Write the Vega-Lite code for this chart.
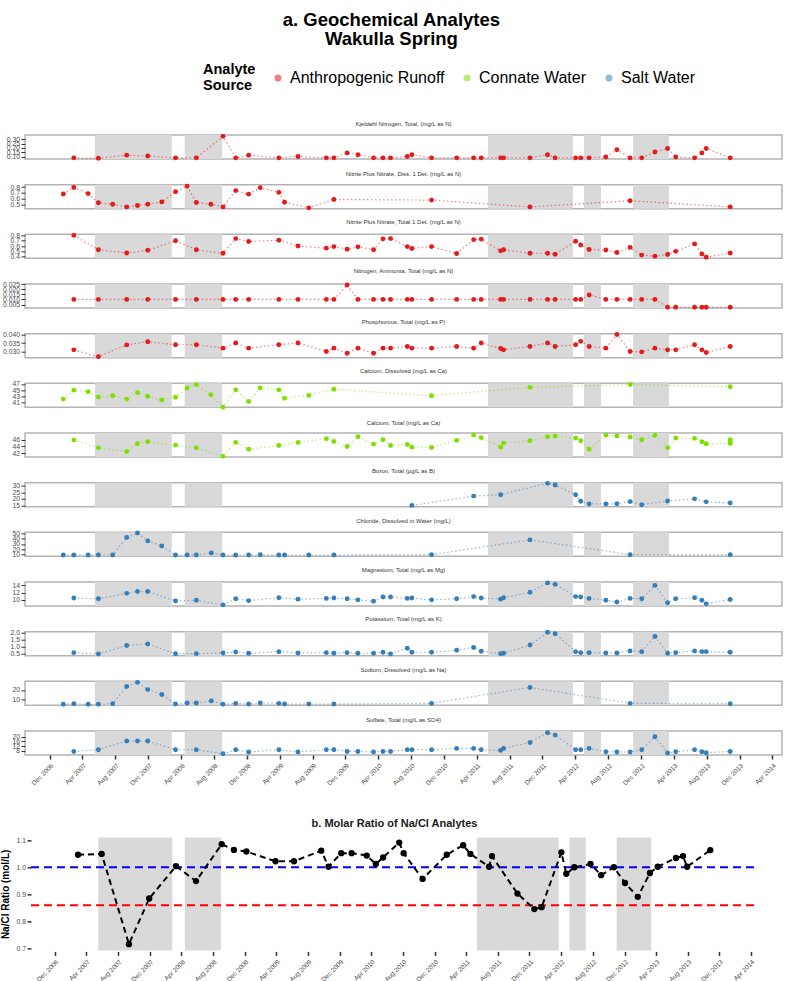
{
"$schema": "https://vega.github.io/schema/vega-lite/v6.json",
"background": "white",
"padding": {"left": 0, "top": 10, "right": 0, "bottom": 0},
"title": {"text": ["a. Geochemical Analytes", "Wakulla Spring"], "fontSize": 18.5, "fontWeight": "bold", "color": "#000000", "anchor": "middle", "offset": 22, "lineHeight": 19, "font": "Liberation Sans"},
"datasets": {
"periods": [{"start":"2007-05-17","end":"2008-02-26"},{"start":"2008-04-14","end":"2008-08-31"},{"start":"2011-05-13","end":"2012-03-23"},{"start":"2012-05-03","end":"2012-07-05"},{"start":"2012-11-01","end":"2013-03-14"}],
"refs": [{"ref":"equal","ratio":1.0,"start":"2006-08-31","end":"2014-04-21"},{"ref":"seawater","ratio":0.86,"start":"2006-08-31","end":"2014-04-21"}],
"Kjeldahl": [{"date":"2007-02-28","value":0.09},{"date":"2007-05-30","value":0.085},{"date":"2007-09-12","value":0.12},{"date":"2007-11-29","value":0.11},{"date":"2008-03-11","value":0.09},{"date":"2008-05-27","value":0.09},{"date":"2008-09-03","value":0.33},{"date":"2008-10-20","value":0.09},{"date":"2008-12-07","value":0.12},{"date":"2009-03-29","value":0.09},{"date":"2009-06-08","value":0.105},{"date":"2009-09-21","value":0.09},{"date":"2009-10-19","value":0.09},{"date":"2009-12-07","value":0.145},{"date":"2010-01-16","value":0.125},{"date":"2010-03-15","value":0.09},{"date":"2010-04-19","value":0.09},{"date":"2010-05-17","value":0.09},{"date":"2010-07-18","value":0.105},{"date":"2010-08-04","value":0.125},{"date":"2010-10-16","value":0.09},{"date":"2011-01-17","value":0.09},{"date":"2011-03-21","value":0.09},{"date":"2011-04-18","value":0.09},{"date":"2011-06-29","value":0.09},{"date":"2011-07-10","value":0.09},{"date":"2011-10-16","value":0.09},{"date":"2011-12-20","value":0.125},{"date":"2012-01-17","value":0.09},{"date":"2012-04-02","value":0.09},{"date":"2012-04-21","value":0.09},{"date":"2012-05-22","value":0.09},{"date":"2012-07-23","value":0.10},{"date":"2012-09-02","value":0.18},{"date":"2012-10-21","value":0.09},{"date":"2012-12-03","value":0.09},{"date":"2013-01-21","value":0.155},{"date":"2013-03-09","value":0.195},{"date":"2013-04-08","value":0.10},{"date":"2013-06-17","value":0.09},{"date":"2013-07-14","value":0.145},{"date":"2013-07-30","value":0.195},{"date":"2013-10-27","value":0.09}],
"NO3D": [{"date":"2007-01-20","value":0.684},{"date":"2007-02-28","value":0.793},{"date":"2007-04-22","value":0.69},{"date":"2007-05-30","value":0.535},{"date":"2007-07-22","value":0.51},{"date":"2007-09-12","value":0.466},{"date":"2007-10-22","value":0.49},{"date":"2007-11-29","value":0.51},{"date":"2008-01-20","value":0.55},{"date":"2008-03-11","value":0.72},{"date":"2008-04-23","value":0.816},{"date":"2008-05-27","value":0.54},{"date":"2008-07-20","value":0.51},{"date":"2008-09-03","value":0.466},{"date":"2008-10-20","value":0.74},{"date":"2008-12-07","value":0.68},{"date":"2009-01-19","value":0.79},{"date":"2009-03-29","value":0.71},{"date":"2009-04-19","value":0.545},{"date":"2009-07-18","value":0.45},{"date":"2009-10-19","value":0.59},{"date":"2010-10-16","value":0.58},{"date":"2011-10-16","value":0.466},{"date":"2012-10-21","value":0.57},{"date":"2013-10-27","value":0.466}],
"NO3T": [{"date":"2007-02-28","value":0.80},{"date":"2007-05-30","value":0.53},{"date":"2007-09-12","value":0.47},{"date":"2007-11-29","value":0.52},{"date":"2008-03-11","value":0.70},{"date":"2008-05-27","value":0.53},{"date":"2008-09-03","value":0.465},{"date":"2008-10-20","value":0.74},{"date":"2008-12-07","value":0.685},{"date":"2009-03-29","value":0.71},{"date":"2009-06-08","value":0.60},{"date":"2009-09-21","value":0.56},{"date":"2009-10-19","value":0.59},{"date":"2009-12-07","value":0.54},{"date":"2010-01-16","value":0.585},{"date":"2010-03-15","value":0.53},{"date":"2010-04-19","value":0.735},{"date":"2010-05-17","value":0.74},{"date":"2010-07-18","value":0.59},{"date":"2010-08-04","value":0.555},{"date":"2010-10-16","value":0.59},{"date":"2011-01-17","value":0.46},{"date":"2011-03-21","value":0.72},{"date":"2011-04-18","value":0.73},{"date":"2011-06-29","value":0.51},{"date":"2011-07-10","value":0.53},{"date":"2011-10-16","value":0.465},{"date":"2011-12-20","value":0.465},{"date":"2012-01-17","value":0.445},{"date":"2012-04-02","value":0.69},{"date":"2012-04-21","value":0.62},{"date":"2012-05-22","value":0.535},{"date":"2012-07-23","value":0.525},{"date":"2012-09-02","value":0.48},{"date":"2012-10-21","value":0.575},{"date":"2012-12-03","value":0.43},{"date":"2013-01-21","value":0.41},{"date":"2013-03-09","value":0.44},{"date":"2013-04-08","value":0.50},{"date":"2013-06-17","value":0.64},{"date":"2013-07-14","value":0.45},{"date":"2013-07-30","value":0.39},{"date":"2013-10-27","value":0.47}],
"NH4": [{"date":"2007-02-28","value":0.010},{"date":"2007-05-30","value":0.010},{"date":"2007-09-12","value":0.010},{"date":"2007-11-29","value":0.010},{"date":"2008-03-11","value":0.010},{"date":"2008-05-27","value":0.010},{"date":"2008-09-03","value":0.010},{"date":"2008-10-20","value":0.010},{"date":"2008-12-07","value":0.010},{"date":"2009-03-29","value":0.010},{"date":"2009-06-08","value":0.010},{"date":"2009-09-21","value":0.010},{"date":"2009-10-19","value":0.010},{"date":"2009-12-07","value":0.024},{"date":"2010-01-16","value":0.010},{"date":"2010-03-15","value":0.010},{"date":"2010-04-19","value":0.010},{"date":"2010-05-17","value":0.010},{"date":"2010-07-18","value":0.010},{"date":"2010-08-04","value":0.010},{"date":"2010-10-16","value":0.010},{"date":"2011-01-17","value":0.010},{"date":"2011-03-21","value":0.010},{"date":"2011-04-18","value":0.010},{"date":"2011-06-29","value":0.010},{"date":"2011-07-10","value":0.010},{"date":"2011-10-16","value":0.010},{"date":"2011-12-20","value":0.010},{"date":"2012-01-17","value":0.010},{"date":"2012-04-02","value":0.010},{"date":"2012-04-21","value":0.010},{"date":"2012-05-22","value":0.0143},{"date":"2012-07-23","value":0.010},{"date":"2012-09-02","value":0.010},{"date":"2012-10-21","value":0.010},{"date":"2012-12-03","value":0.010},{"date":"2013-01-21","value":0.010},{"date":"2013-03-09","value":0.0023},{"date":"2013-04-08","value":0.0023},{"date":"2013-06-17","value":0.0023},{"date":"2013-07-14","value":0.0023},{"date":"2013-07-30","value":0.0023},{"date":"2013-10-27","value":0.0023}],
"P": [{"date":"2007-02-28","value":0.031},{"date":"2007-05-30","value":0.027},{"date":"2007-09-12","value":0.0339},{"date":"2007-11-29","value":0.0358},{"date":"2008-03-11","value":0.034},{"date":"2008-05-27","value":0.034},{"date":"2008-09-03","value":0.032},{"date":"2008-10-20","value":0.035},{"date":"2008-12-07","value":0.032},{"date":"2009-03-29","value":0.034},{"date":"2009-06-08","value":0.035},{"date":"2009-09-21","value":0.030},{"date":"2009-10-19","value":0.032},{"date":"2009-12-07","value":0.029},{"date":"2010-01-16","value":0.032},{"date":"2010-03-15","value":0.029},{"date":"2010-04-19","value":0.032},{"date":"2010-05-17","value":0.032},{"date":"2010-07-18","value":0.033},{"date":"2010-08-04","value":0.032},{"date":"2010-10-16","value":0.032},{"date":"2011-01-17","value":0.033},{"date":"2011-03-21","value":0.032},{"date":"2011-04-18","value":0.035},{"date":"2011-06-29","value":0.0318},{"date":"2011-07-10","value":0.031},{"date":"2011-10-16","value":0.033},{"date":"2011-12-20","value":0.035},{"date":"2012-01-17","value":0.033},{"date":"2012-04-02","value":0.034},{"date":"2012-04-21","value":0.036},{"date":"2012-05-22","value":0.033},{"date":"2012-07-23","value":0.032},{"date":"2012-09-02","value":0.040},{"date":"2012-10-21","value":0.030},{"date":"2012-12-03","value":0.0298},{"date":"2013-01-21","value":0.032},{"date":"2013-03-09","value":0.031},{"date":"2013-04-08","value":0.031},{"date":"2013-06-17","value":0.034},{"date":"2013-07-14","value":0.031},{"date":"2013-07-30","value":0.0294},{"date":"2013-10-27","value":0.033}],
"CaD": [{"date":"2007-01-20","value":42.1},{"date":"2007-02-28","value":45.0},{"date":"2007-04-22","value":44.5},{"date":"2007-05-30","value":42.8},{"date":"2007-07-22","value":43.2},{"date":"2007-09-12","value":42.1},{"date":"2007-10-22","value":44.2},{"date":"2007-11-29","value":43.0},{"date":"2008-01-20","value":41.8},{"date":"2008-03-11","value":42.7},{"date":"2008-04-23","value":45.7},{"date":"2008-05-27","value":46.8},{"date":"2008-07-20","value":43.5},{"date":"2008-09-03","value":39.5},{"date":"2008-10-20","value":45.1},{"date":"2008-12-07","value":41.3},{"date":"2009-01-19","value":45.7},{"date":"2009-03-29","value":45.1},{"date":"2009-04-19","value":42.4},{"date":"2009-07-18","value":43.3},{"date":"2009-10-19","value":45.3},{"date":"2010-10-16","value":43.2},{"date":"2011-10-16","value":45.9},{"date":"2012-10-21","value":46.8},{"date":"2013-10-27","value":46.1}],
"CaT": [{"date":"2007-02-28","value":45.9},{"date":"2007-05-30","value":43.6},{"date":"2007-09-12","value":42.5},{"date":"2007-10-22","value":44.8},{"date":"2007-11-29","value":45.4},{"date":"2008-03-11","value":44.4},{"date":"2008-05-27","value":43.6},{"date":"2008-09-03","value":41.1},{"date":"2008-10-20","value":45.2},{"date":"2008-12-07","value":43.2},{"date":"2009-03-29","value":44.3},{"date":"2009-06-08","value":45.2},{"date":"2009-09-21","value":46.3},{"date":"2009-10-19","value":45.5},{"date":"2009-12-07","value":44.0},{"date":"2010-01-16","value":46.9},{"date":"2010-03-15","value":44.7},{"date":"2010-04-19","value":46.0},{"date":"2010-05-17","value":44.3},{"date":"2010-07-18","value":44.6},{"date":"2010-08-04","value":43.8},{"date":"2010-10-16","value":43.7},{"date":"2011-01-17","value":45.8},{"date":"2011-03-21","value":47.4},{"date":"2011-04-18","value":46.6},{"date":"2011-06-29","value":43.8},{"date":"2011-07-10","value":45.0},{"date":"2011-10-16","value":45.7},{"date":"2011-12-20","value":46.9},{"date":"2012-01-17","value":47.1},{"date":"2012-04-02","value":46.5},{"date":"2012-04-21","value":45.7},{"date":"2012-05-22","value":43.2},{"date":"2012-07-23","value":47.3},{"date":"2012-09-02","value":47.1},{"date":"2012-10-21","value":46.8},{"date":"2012-12-03","value":46.0},{"date":"2013-01-21","value":47.3},{"date":"2013-03-09","value":43.6},{"date":"2013-04-08","value":46.5},{"date":"2013-06-17","value":46.4},{"date":"2013-07-14","value":45.4},{"date":"2013-07-30","value":44.8},{"date":"2013-10-27","value":44.9},{"date":"2013-10-27","value":45.4},{"date":"2013-10-27","value":46.0}],
"B": [{"date":"2010-08-04","value":15.0},{"date":"2011-03-21","value":22.1},{"date":"2011-06-29","value":23.2},{"date":"2011-12-20","value":31.9},{"date":"2012-01-17","value":30.6},{"date":"2012-04-02","value":23.2},{"date":"2012-04-21","value":18.2},{"date":"2012-05-22","value":16.1},{"date":"2012-07-23","value":16.1},{"date":"2012-09-02","value":16.3},{"date":"2012-10-21","value":17.9},{"date":"2012-12-03","value":15.5},{"date":"2013-03-09","value":18.4},{"date":"2013-06-17","value":20.0},{"date":"2013-07-30","value":17.7},{"date":"2013-10-27","value":16.9}],
"Cl": [{"date":"2007-01-20","value":8.6},{"date":"2007-02-28","value":8.6},{"date":"2007-04-22","value":8.6},{"date":"2007-05-30","value":8.6},{"date":"2007-07-22","value":8.6},{"date":"2007-09-12","value":42.6},{"date":"2007-10-22","value":51.3},{"date":"2007-11-29","value":36.0},{"date":"2008-01-20","value":26.0},{"date":"2008-03-11","value":8.6},{"date":"2008-04-23","value":8.6},{"date":"2008-05-27","value":8.6},{"date":"2008-07-22","value":12.6},{"date":"2008-09-03","value":8.6},{"date":"2008-10-20","value":8.6},{"date":"2008-12-07","value":8.6},{"date":"2009-01-19","value":9.3},{"date":"2009-03-29","value":8.6},{"date":"2009-04-19","value":8.6},{"date":"2009-07-18","value":8.6},{"date":"2009-10-19","value":8.6},{"date":"2010-10-16","value":9.3},{"date":"2011-10-16","value":38.0},{"date":"2012-10-21","value":9.3},{"date":"2013-10-27","value":9.3}],
"Mg": [{"date":"2007-02-28","value":10.5},{"date":"2007-05-30","value":10.3},{"date":"2007-09-12","value":11.8},{"date":"2007-10-22","value":12.3},{"date":"2007-11-29","value":12.3},{"date":"2008-03-11","value":9.7},{"date":"2008-05-27","value":9.9},{"date":"2008-09-03","value":8.6},{"date":"2008-10-20","value":10.3},{"date":"2008-12-07","value":9.8},{"date":"2009-03-29","value":10.6},{"date":"2009-06-08","value":10.2},{"date":"2009-09-21","value":10.4},{"date":"2009-10-19","value":10.5},{"date":"2009-12-07","value":10.3},{"date":"2010-01-16","value":10.0},{"date":"2010-03-15","value":9.6},{"date":"2010-04-19","value":10.8},{"date":"2010-05-17","value":10.8},{"date":"2010-07-18","value":10.4},{"date":"2010-08-04","value":10.5},{"date":"2010-10-16","value":10.0},{"date":"2011-01-17","value":10.3},{"date":"2011-03-21","value":10.9},{"date":"2011-04-18","value":10.5},{"date":"2011-06-29","value":10.2},{"date":"2011-07-10","value":10.6},{"date":"2011-10-16","value":12.1},{"date":"2011-12-20","value":14.7},{"date":"2012-01-17","value":14.3},{"date":"2012-04-02","value":10.9},{"date":"2012-04-21","value":10.8},{"date":"2012-05-22","value":10.4},{"date":"2012-07-23","value":9.9},{"date":"2012-09-02","value":9.4},{"date":"2012-10-21","value":10.4},{"date":"2012-12-03","value":10.3},{"date":"2013-01-21","value":14.0},{"date":"2013-03-09","value":9.2},{"date":"2013-04-08","value":10.3},{"date":"2013-06-17","value":10.6},{"date":"2013-07-14","value":9.9},{"date":"2013-07-30","value":8.9},{"date":"2013-10-27","value":10.1}],
"K": [{"date":"2007-02-28","value":0.59},{"date":"2007-05-30","value":0.5},{"date":"2007-09-12","value":1.09},{"date":"2007-11-29","value":1.19},{"date":"2008-03-11","value":0.52},{"date":"2008-05-27","value":0.52},{"date":"2008-09-03","value":0.57},{"date":"2008-10-20","value":0.64},{"date":"2008-12-07","value":0.55},{"date":"2009-03-29","value":0.66},{"date":"2009-06-08","value":0.57},{"date":"2009-09-21","value":0.59},{"date":"2009-10-19","value":0.55},{"date":"2009-12-07","value":0.59},{"date":"2010-01-16","value":0.55},{"date":"2010-03-15","value":0.55},{"date":"2010-04-19","value":0.62},{"date":"2010-05-17","value":0.5},{"date":"2010-07-18","value":0.9},{"date":"2010-08-04","value":0.62},{"date":"2010-10-16","value":0.62},{"date":"2011-01-17","value":0.76},{"date":"2011-03-21","value":0.95},{"date":"2011-04-18","value":0.69},{"date":"2011-06-29","value":0.52},{"date":"2011-07-10","value":0.55},{"date":"2011-10-16","value":1.12},{"date":"2011-12-20","value":2.0},{"date":"2012-01-17","value":1.9},{"date":"2012-04-02","value":0.66},{"date":"2012-04-21","value":0.59},{"date":"2012-05-22","value":0.59},{"date":"2012-07-23","value":0.57},{"date":"2012-09-02","value":0.57},{"date":"2012-10-21","value":0.71},{"date":"2012-12-03","value":0.66},{"date":"2013-01-21","value":1.71},{"date":"2013-03-09","value":0.55},{"date":"2013-04-08","value":0.59},{"date":"2013-06-17","value":0.71},{"date":"2013-07-14","value":0.66},{"date":"2013-07-30","value":0.66},{"date":"2013-10-27","value":0.62}],
"Na": [{"date":"2007-01-20","value":5.1},{"date":"2007-02-28","value":5.7},{"date":"2007-04-22","value":5.1},{"date":"2007-05-30","value":5.1},{"date":"2007-07-22","value":5.7},{"date":"2007-09-12","value":23.5},{"date":"2007-10-22","value":27.8},{"date":"2007-11-29","value":20.3},{"date":"2008-01-20","value":15.3},{"date":"2008-03-11","value":5.4},{"date":"2008-04-23","value":6.5},{"date":"2008-05-27","value":6.5},{"date":"2008-07-22","value":8.6},{"date":"2008-09-03","value":5.1},{"date":"2008-10-20","value":6.1},{"date":"2008-12-07","value":5.4},{"date":"2009-01-19","value":6.5},{"date":"2009-03-29","value":6.1},{"date":"2009-04-19","value":5.4},{"date":"2009-07-18","value":5.4},{"date":"2009-10-19","value":5.4},{"date":"2010-10-16","value":6.1},{"date":"2011-10-16","value":22.5},{"date":"2012-10-21","value":6.1},{"date":"2013-10-27","value":5.7}],
"SO4": [{"date":"2007-02-28","value":7.4},{"date":"2007-05-30","value":8.9},{"date":"2007-09-12","value":16.3},{"date":"2007-10-22","value":16.3},{"date":"2007-11-29","value":16.3},{"date":"2008-03-11","value":8.9},{"date":"2008-05-27","value":8.9},{"date":"2008-09-03","value":5.4},{"date":"2008-10-20","value":8.9},{"date":"2008-12-07","value":6.9},{"date":"2009-03-29","value":8.9},{"date":"2009-06-08","value":6.9},{"date":"2009-09-21","value":8.9},{"date":"2009-10-19","value":8.9},{"date":"2009-12-07","value":7.4},{"date":"2010-01-16","value":7.4},{"date":"2010-03-15","value":6.9},{"date":"2010-04-19","value":7.4},{"date":"2010-05-17","value":7.4},{"date":"2010-07-18","value":8.9},{"date":"2010-08-04","value":8.9},{"date":"2010-10-16","value":8.9},{"date":"2011-01-17","value":10.0},{"date":"2011-03-21","value":10.0},{"date":"2011-04-18","value":8.9},{"date":"2011-06-29","value":8.3},{"date":"2011-07-10","value":10.0},{"date":"2011-10-16","value":15.1},{"date":"2011-12-20","value":23.4},{"date":"2012-01-17","value":21.4},{"date":"2012-04-02","value":8.9},{"date":"2012-04-21","value":8.9},{"date":"2012-05-22","value":10.0},{"date":"2012-07-23","value":7.1},{"date":"2012-09-02","value":6.9},{"date":"2012-10-21","value":6.9},{"date":"2012-12-03","value":8.9},{"date":"2013-01-21","value":20.0},{"date":"2013-03-09","value":6.0},{"date":"2013-04-08","value":7.1},{"date":"2013-06-17","value":8.9},{"date":"2013-07-14","value":7.1},{"date":"2013-07-30","value":6.3},{"date":"2013-10-27","value":7.4}],
"ratio": [{"date":"2007-02-28","value":1.046},{"date":"2007-05-30","value":1.049},{"date":"2007-09-12","value":0.717},{"date":"2007-11-29","value":0.885},{"date":"2008-03-11","value":1.004},{"date":"2008-05-27","value":0.949},{"date":"2008-09-03","value":1.085},{"date":"2008-10-20","value":1.064},{"date":"2008-12-07","value":1.058},{"date":"2009-03-29","value":1.022},{"date":"2009-06-08","value":1.022},{"date":"2009-09-21","value":1.061},{"date":"2009-10-19","value":1.002},{"date":"2009-12-07","value":1.052},{"date":"2010-01-16","value":1.052},{"date":"2010-03-15","value":1.043},{"date":"2010-04-19","value":1.012},{"date":"2010-05-17","value":1.036},{"date":"2010-07-18","value":1.091},{"date":"2010-08-04","value":1.052},{"date":"2010-10-16","value":0.957},{"date":"2011-01-17","value":1.046},{"date":"2011-03-21","value":1.081},{"date":"2011-04-18","value":1.049},{"date":"2011-06-29","value":1.002},{"date":"2011-07-10","value":1.041},{"date":"2011-10-16","value":0.903},{"date":"2011-12-20","value":0.846},{"date":"2012-01-17","value":0.853},{"date":"2012-04-02","value":1.055},{"date":"2012-04-21","value":0.976},{"date":"2012-05-22","value":1.0},{"date":"2012-07-23","value":1.012},{"date":"2012-09-02","value":0.971},{"date":"2012-10-21","value":1.0},{"date":"2012-12-03","value":0.942},{"date":"2013-01-21","value":0.891},{"date":"2013-03-09","value":0.979},{"date":"2013-04-08","value":1.002},{"date":"2013-06-17","value":1.034},{"date":"2013-07-14","value":1.041},{"date":"2013-07-30","value":1.002},{"date":"2013-10-27","value":1.063}]
},
"bounds": "flush",
"spacing": 25.67,
"vconcat": [
{"width":757,"height":24,"title":"Kjeldahl Nitrogen, Total, (mg/L as N)","layer":[
 {"data":{"name":"periods"},"mark":{"type":"rect","color":"#d9d9d9"},"encoding":{"x":{"field":"start","type":"temporal","scale":{"domain":["2006-08-31","2014-05-07"]},"axis":null},"x2":{"field":"end"}}},
 {"data":{"name":"Kjeldahl"},"encoding":{"x":{"field":"date","type":"temporal","axis":null},"y":{"field":"value","type":"quantitative","scale":{"domain":[0.077,0.345],"nice":false,"zero":false},"axis":{"values":[0.10,0.15,0.20,0.25,0.30],"format":".2f","title":null}},"color":{"datum":"Anthropogenic Runoff","type":"nominal","title":["Analyte","Source"],"scale":{"domain":["Anthropogenic Runoff","Connate Water","Salt Water"],"range":["#E41A1C","#7FE000","#377EB8"]}}},
  "layer":[{"mark":{"type":"line","strokeDash":[1.5,2.5],"strokeWidth":1.2,"opacity":0.55}},{"mark":{"type":"point","filled":true,"size":24,"opacity":1}}]}]},
{"width":757,"height":24,"title":"Nitrite Plus Nitrate, Diss. 1 Det. (mg/L as N)","layer":[
 {"data":{"name":"periods"},"mark":{"type":"rect","color":"#d9d9d9"},"encoding":{"x":{"field":"start","type":"temporal","scale":{"domain":["2006-08-31","2014-05-07"]},"axis":null},"x2":{"field":"end"}}},
 {"data":{"name":"NO3D"},"encoding":{"x":{"field":"date","type":"temporal","axis":null},"y":{"field":"value","type":"quantitative","scale":{"domain":[0.436,0.84],"nice":false,"zero":false},"axis":{"values":[0.5,0.6,0.7,0.8],"format":".1f","title":null}},"color":{"datum":"Anthropogenic Runoff","type":"nominal","title":["Analyte","Source"],"scale":{"domain":["Anthropogenic Runoff","Connate Water","Salt Water"],"range":["#E41A1C","#7FE000","#377EB8"]}}},
  "layer":[{"mark":{"type":"line","strokeDash":[1.5,2.5],"strokeWidth":1.2,"opacity":0.55}},{"mark":{"type":"point","filled":true,"size":24,"opacity":1}}]}]},
{"width":757,"height":24,"title":"Nitrite Plus Nitrate, Total 1 Det. (mg/L as N)","layer":[
 {"data":{"name":"periods"},"mark":{"type":"rect","color":"#d9d9d9"},"encoding":{"x":{"field":"start","type":"temporal","scale":{"domain":["2006-08-31","2014-05-07"]},"axis":null},"x2":{"field":"end"}}},
 {"data":{"name":"NO3T"},"encoding":{"x":{"field":"date","type":"temporal","axis":null},"y":{"field":"value","type":"quantitative","scale":{"domain":[0.369,0.82],"nice":false,"zero":false},"axis":{"values":[0.4,0.5,0.6,0.7,0.8],"format":".1f","title":null}},"color":{"datum":"Anthropogenic Runoff","type":"nominal","title":["Analyte","Source"],"scale":{"domain":["Anthropogenic Runoff","Connate Water","Salt Water"],"range":["#E41A1C","#7FE000","#377EB8"]}}},
  "layer":[{"mark":{"type":"line","strokeDash":[1.5,2.5],"strokeWidth":1.2,"opacity":0.55}},{"mark":{"type":"point","filled":true,"size":24,"opacity":1}}]}]},
{"width":757,"height":24,"title":"Nitrogen, Ammonia, Total (mg/L as N)","layer":[
 {"data":{"name":"periods"},"mark":{"type":"rect","color":"#d9d9d9"},"encoding":{"x":{"field":"start","type":"temporal","scale":{"domain":["2006-08-31","2014-05-07"]},"axis":null},"x2":{"field":"end"}}},
 {"data":{"name":"NH4"},"encoding":{"x":{"field":"date","type":"temporal","axis":null},"y":{"field":"value","type":"quantitative","scale":{"domain":[0.0016,0.025],"nice":false,"zero":false},"axis":{"values":[0.005,0.010,0.015,0.020,0.025],"format":".3f","title":null}},"color":{"datum":"Anthropogenic Runoff","type":"nominal","title":["Analyte","Source"],"scale":{"domain":["Anthropogenic Runoff","Connate Water","Salt Water"],"range":["#E41A1C","#7FE000","#377EB8"]}}},
  "layer":[{"mark":{"type":"line","strokeDash":[1.5,2.5],"strokeWidth":1.2,"opacity":0.55}},{"mark":{"type":"point","filled":true,"size":24,"opacity":1}}]}]},
{"width":757,"height":24,"title":"Phosphorous, Total (mg/L as P)","layer":[
 {"data":{"name":"periods"},"mark":{"type":"rect","color":"#d9d9d9"},"encoding":{"x":{"field":"start","type":"temporal","scale":{"domain":["2006-08-31","2014-05-07"]},"axis":null},"x2":{"field":"end"}}},
 {"data":{"name":"P"},"encoding":{"x":{"field":"date","type":"temporal","axis":null},"y":{"field":"value","type":"quantitative","scale":{"domain":[0.0264,0.0405],"nice":false,"zero":false},"axis":{"values":[0.030,0.035,0.040],"format":".3f","title":null}},"color":{"datum":"Anthropogenic Runoff","type":"nominal","title":["Analyte","Source"],"scale":{"domain":["Anthropogenic Runoff","Connate Water","Salt Water"],"range":["#E41A1C","#7FE000","#377EB8"]}}},
  "layer":[{"mark":{"type":"line","strokeDash":[1.5,2.5],"strokeWidth":1.2,"opacity":0.55}},{"mark":{"type":"point","filled":true,"size":24,"opacity":1}}]}]},
{"width":757,"height":24,"title":"Calcium, Dissolved (mg/L as Ca)","layer":[
 {"data":{"name":"periods"},"mark":{"type":"rect","color":"#d9d9d9"},"encoding":{"x":{"field":"start","type":"temporal","scale":{"domain":["2006-08-31","2014-05-07"]},"axis":null},"x2":{"field":"end"}}},
 {"data":{"name":"CaD"},"encoding":{"x":{"field":"date","type":"temporal","axis":null},"y":{"field":"value","type":"quantitative","scale":{"domain":[39.43,47.2],"nice":false,"zero":false},"axis":{"values":[41,43,45,47],"format":"d","title":null}},"color":{"datum":"Connate Water","type":"nominal","title":["Analyte","Source"],"scale":{"domain":["Anthropogenic Runoff","Connate Water","Salt Water"],"range":["#E41A1C","#7FE000","#377EB8"]}}},
  "layer":[{"mark":{"type":"line","strokeDash":[1.5,2.5],"strokeWidth":1.2,"opacity":0.55}},{"mark":{"type":"point","filled":true,"size":24,"opacity":1}}]}]},
{"width":757,"height":24,"title":"Calcium, Total (mg/L as Ca)","layer":[
 {"data":{"name":"periods"},"mark":{"type":"rect","color":"#d9d9d9"},"encoding":{"x":{"field":"start","type":"temporal","scale":{"domain":["2006-08-31","2014-05-07"]},"axis":null},"x2":{"field":"end"}}},
 {"data":{"name":"CaT"},"encoding":{"x":{"field":"date","type":"temporal","axis":null},"y":{"field":"value","type":"quantitative","scale":{"domain":[40.9,47.97],"nice":false,"zero":false},"axis":{"values":[42,44,46,48],"format":"d","title":null}},"color":{"datum":"Connate Water","type":"nominal","title":["Analyte","Source"],"scale":{"domain":["Anthropogenic Runoff","Connate Water","Salt Water"],"range":["#E41A1C","#7FE000","#377EB8"]}}},
  "layer":[{"mark":{"type":"line","strokeDash":[1.5,2.5],"strokeWidth":1.2,"opacity":0.55}},{"mark":{"type":"point","filled":true,"size":24,"opacity":1}}]}]},
{"width":757,"height":24,"title":"Boron, Total (µg/L as B)","layer":[
 {"data":{"name":"periods"},"mark":{"type":"rect","color":"#d9d9d9"},"encoding":{"x":{"field":"start","type":"temporal","scale":{"domain":["2006-08-31","2014-05-07"]},"axis":null},"x2":{"field":"end"}}},
 {"data":{"name":"B"},"encoding":{"x":{"field":"date","type":"temporal","axis":null},"y":{"field":"value","type":"quantitative","scale":{"domain":[14,32.4],"nice":false,"zero":false},"axis":{"values":[15,20,25,30],"format":"d","title":null}},"color":{"datum":"Salt Water","type":"nominal","title":["Analyte","Source"],"scale":{"domain":["Anthropogenic Runoff","Connate Water","Salt Water"],"range":["#E41A1C","#7FE000","#377EB8"]}}},
  "layer":[{"mark":{"type":"line","strokeDash":[1.5,2.5],"strokeWidth":1.2,"opacity":0.55}},{"mark":{"type":"point","filled":true,"size":24,"opacity":1}}]}]},
{"width":757,"height":24,"title":"Chloride, Dissolved in Water (mg/L)","layer":[
 {"data":{"name":"periods"},"mark":{"type":"rect","color":"#d9d9d9"},"encoding":{"x":{"field":"start","type":"temporal","scale":{"domain":["2006-08-31","2014-05-07"]},"axis":null},"x2":{"field":"end"}}},
 {"data":{"name":"Cl"},"encoding":{"x":{"field":"date","type":"temporal","axis":null},"y":{"field":"value","type":"quantitative","scale":{"domain":[6,52.6],"nice":false,"zero":false},"axis":{"values":[10,20,30,40,50],"format":"d","title":null}},"color":{"datum":"Salt Water","type":"nominal","title":["Analyte","Source"],"scale":{"domain":["Anthropogenic Runoff","Connate Water","Salt Water"],"range":["#E41A1C","#7FE000","#377EB8"]}}},
  "layer":[{"mark":{"type":"line","strokeDash":[1.5,2.5],"strokeWidth":1.2,"opacity":0.55}},{"mark":{"type":"point","filled":true,"size":24,"opacity":1}}]}]},
{"width":757,"height":24,"title":"Magnesium, Total (mg/L as Mg)","layer":[
 {"data":{"name":"periods"},"mark":{"type":"rect","color":"#d9d9d9"},"encoding":{"x":{"field":"start","type":"temporal","scale":{"domain":["2006-08-31","2014-05-07"]},"axis":null},"x2":{"field":"end"}}},
 {"data":{"name":"Mg"},"encoding":{"x":{"field":"date","type":"temporal","axis":null},"y":{"field":"value","type":"quantitative","scale":{"domain":[8.29,14.94],"nice":false,"zero":false},"axis":{"values":[10,12,14],"format":"d","title":null}},"color":{"datum":"Salt Water","type":"nominal","title":["Analyte","Source"],"scale":{"domain":["Anthropogenic Runoff","Connate Water","Salt Water"],"range":["#E41A1C","#7FE000","#377EB8"]}}},
  "layer":[{"mark":{"type":"line","strokeDash":[1.5,2.5],"strokeWidth":1.2,"opacity":0.55}},{"mark":{"type":"point","filled":true,"size":24,"opacity":1}}]}]},
{"width":757,"height":24,"title":"Potassium, Total (mg/L as K)","layer":[
 {"data":{"name":"periods"},"mark":{"type":"rect","color":"#d9d9d9"},"encoding":{"x":{"field":"start","type":"temporal","scale":{"domain":["2006-08-31","2014-05-07"]},"axis":null},"x2":{"field":"end"}}},
 {"data":{"name":"K"},"encoding":{"x":{"field":"date","type":"temporal","axis":null},"y":{"field":"value","type":"quantitative","scale":{"domain":[0.38,2.04],"nice":false,"zero":false},"axis":{"values":[0.5,1.0,1.5,2.0],"format":".1f","title":null}},"color":{"datum":"Salt Water","type":"nominal","title":["Analyte","Source"],"scale":{"domain":["Anthropogenic Runoff","Connate Water","Salt Water"],"range":["#E41A1C","#7FE000","#377EB8"]}}},
  "layer":[{"mark":{"type":"line","strokeDash":[1.5,2.5],"strokeWidth":1.2,"opacity":0.55}},{"mark":{"type":"point","filled":true,"size":24,"opacity":1}}]}]},
{"width":757,"height":24,"title":"Sodium, Dissolved (mg/L as Na)","layer":[
 {"data":{"name":"periods"},"mark":{"type":"rect","color":"#d9d9d9"},"encoding":{"x":{"field":"start","type":"temporal","scale":{"domain":["2006-08-31","2014-05-07"]},"axis":null},"x2":{"field":"end"}}},
 {"data":{"name":"Na"},"encoding":{"x":{"field":"date","type":"temporal","axis":null},"y":{"field":"value","type":"quantitative","scale":{"domain":[4.0,28.8],"nice":false,"zero":false},"axis":{"values":[10,20],"format":"d","title":null}},"color":{"datum":"Salt Water","type":"nominal","title":["Analyte","Source"],"scale":{"domain":["Anthropogenic Runoff","Connate Water","Salt Water"],"range":["#E41A1C","#7FE000","#377EB8"]}}},
  "layer":[{"mark":{"type":"line","strokeDash":[1.5,2.5],"strokeWidth":1.2,"opacity":0.55}},{"mark":{"type":"point","filled":true,"size":24,"opacity":1}}]}]},
{"width":757,"height":24,"title":"Sulfate, Total (mg/L as SO4)","layer":[
 {"data":{"name":"periods"},"mark":{"type":"rect","color":"#d9d9d9"},"encoding":{"x":{"field":"start","type":"temporal","scale":{"domain":["2006-08-31","2014-05-07"]},"axis":{"values":[1164931200000,1175385600000,1185926400000,1196467200000,1207008000000,1217548800000,1228089600000,1238544000000,1249084800000,1259625600000,1270080000000,1280620800000,1291161600000,1301616000000,1312156800000,1322697600000,1333238400000,1343779200000,1354320000000,1364774400000,1375315200000,1385856000000,1396310400000],"tickCount":100,"format":"%b %Y","labelAngle":-45,"labelAlign":"right","labelBaseline":"top","labelOverlap":false,"title":null,"tickWidth":1.5,"tickSize":4,"labelFontSize":6.5,"labelPadding":3}},"x2":{"field":"end"}}},
 {"data":{"name":"SO4"},"encoding":{"x":{"field":"date","type":"temporal","axis":{"title":null,"labelOverlap":false,"tickCount":100}},"y":{"field":"value","type":"quantitative","scale":{"domain":[4.3,24.9],"nice":false,"zero":false},"axis":{"values":[8,12,16,20],"format":"d","title":null}},"color":{"datum":"Salt Water","type":"nominal","title":["Analyte","Source"],"scale":{"domain":["Anthropogenic Runoff","Connate Water","Salt Water"],"range":["#E41A1C","#7FE000","#377EB8"]}}},
  "layer":[{"mark":{"type":"line","strokeDash":[1.5,2.5],"strokeWidth":1.2,"opacity":0.55}},{"mark":{"type":"point","filled":true,"size":24,"opacity":1}}]}]},
{"width":757,"height":30.66,"view":{"stroke":null},"data":{"values":[]},"mark":"point","encoding":{}},
{"width":731,"height":113,"view":{"stroke":null},
 "title":{"text":"b. Molar Ratio of Na/Cl Analytes","fontSize":11,"fontWeight":"bold","color":"#1a1a1a","offset":8,"dx":4},
 "layer":[
 {"data":{"name":"periods"},"mark":{"type":"rect","color":"#d9d9d9"},"encoding":{"x":{"field":"start","type":"temporal","scale":{"domain":["2006-08-08","2014-04-21"]},"axis":{"values":[1164931200000,1175385600000,1185926400000,1196467200000,1207008000000,1217548800000,1228089600000,1238544000000,1249084800000,1259625600000,1270080000000,1280620800000,1291161600000,1301616000000,1312156800000,1322697600000,1333238400000,1343779200000,1354320000000,1364774400000,1375315200000,1385856000000,1396310400000],"tickCount":100,"format":"%b %Y","labelAngle":-45,"labelAlign":"right","labelBaseline":"top","labelOverlap":false,"title":null,"tickWidth":1.5,"tickSize":4,"labelFontSize":6.5,"labelPadding":3,"offset":1}},"x2":{"field":"end"}}},
 {"data":{"name":"refs"},"transform":[{"filter":"datum.ref === 'equal'"}],"mark":{"type":"rule","color":"#0000FF","strokeDash":[8,5],"strokeWidth":2},"encoding":{"x":{"field":"start","type":"temporal"},"x2":{"field":"end"},"y":{"field":"ratio","type":"quantitative","scale":{"domain":[0.694,1.11],"nice":false,"zero":false}}}},
 {"data":{"name":"refs"},"transform":[{"filter":"datum.ref === 'seawater'"}],"mark":{"type":"rule","color":"#FF0000","strokeDash":[8,5],"strokeWidth":2},"encoding":{"x":{"field":"start","type":"temporal"},"x2":{"field":"end"},"y":{"field":"ratio","type":"quantitative","scale":{"domain":[0.694,1.11],"nice":false,"zero":false}}}},
 {"data":{"name":"ratio"},"encoding":{"x":{"field":"date","type":"temporal","axis":{"title":null,"labelOverlap":false,"tickCount":100}},"y":{"field":"value","type":"quantitative","scale":{"domain":[0.694,1.11],"nice":false,"zero":false},"axis":{"values":[0.7,0.8,0.9,1.0,1.1],"tickCount":20,"format":".1f","title":"Na/Cl Ratio (mol/L)","titleFontWeight":"bold","titleFontSize":10,"titleColor":"#000000","titlePadding":6,"offset":-6,"tickWidth":1.5,"tickSize":4,"labelOverlap":false}}},
  "layer":[{"mark":{"type":"line","color":"#000000","strokeDash":[6,4],"strokeWidth":2}},{"mark":{"type":"point","filled":true,"color":"#000000","size":40,"opacity":1}}]}
 ]}
],
"config": {
 "font": "Liberation Sans",
 "view": {"stroke": "#b3b3b3", "strokeWidth": 1.5},
 "axis": {"domain": false, "grid": false, "labelFontSize": 6.8, "labelColor": "#4d4d4d", "tickColor": "#333333", "tickSize": 4, "tickWidth": 1, "labelPadding": 1.5, "labelOverlap": false, "labelFont": "Liberation Sans", "titleFont": "Liberation Sans"},
 "axisY": {"labelOverlap": false},
 "axisX": {"labelOverlap": false},
 "title": {"fontSize": 6, "fontWeight": "normal", "color": "#333333", "offset": 7, "anchor": "middle", "font": "Liberation Sans"},
 "legend": {"orient": "none", "legendX": 178, "legendY": -65, "direction": "horizontal", "titleOrient": "left", "titleFontSize": 14.5, "titleFontWeight": "bold", "titleColor": "#000000", "titleLineHeight": 16, "labelFontSize": 16, "labelColor": "#000000", "symbolType": "circle", "symbolSize": 50, "symbolStrokeWidth": 0, "columnPadding": 14, "titlePadding": 14, "labelFont": "Liberation Sans", "titleFont": "Liberation Sans"}
}
}
